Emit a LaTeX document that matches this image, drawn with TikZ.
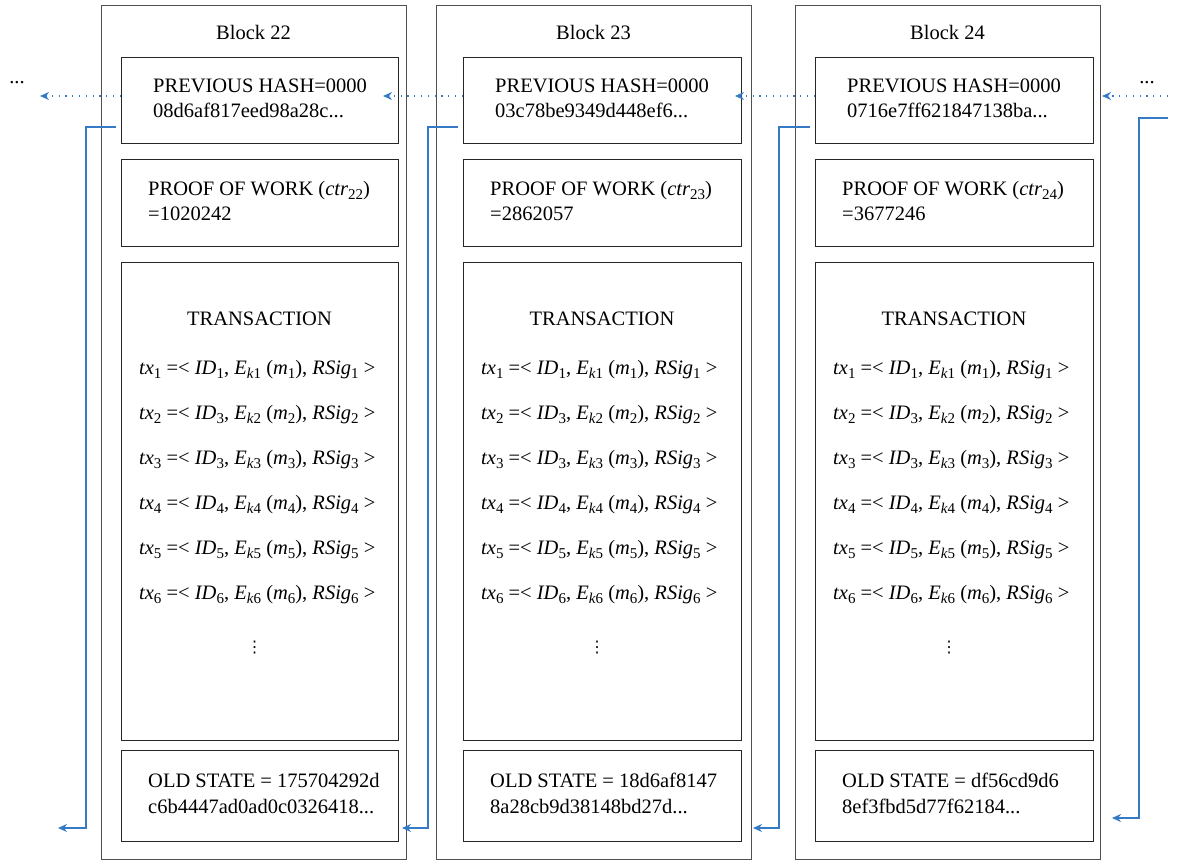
\documentclass[tikz,border=0pt]{standalone}
\usepackage{fontspec}
\setmainfont{Liberation Serif}
\newfontfamily\dejavu{DejaVu Sans}
\usetikzlibrary{arrows.meta}
\definecolor{lnblue}{RGB}{52,122,196}
\definecolor{outergray}{RGB}{80,80,80}
\newcommand\tdots{...}
\newcommand\lsub[1]{\raisebox{-0.5ex}{\fontsize{15}{15}\selectfont #1}}
\newcommand\txline[3]{\textit{tx}\lsub{#1} =< \textit{ID}\lsub{#2}, \textit{E}\lsub{\textit{k}#1} (\textit{m}\lsub{#1}), \textit{RSig}\lsub{#1} >}
\tikzset{
  outerbox/.style={draw=outergray,line width=1.4pt},
  innerbox/.style={draw=black!85,line width=1.1pt},
  txt/.style={font=\fontsize{20.5}{23}\selectfont,inner sep=0pt,anchor=base west},
  ctxt/.style={font=\fontsize{20.5}{23}\selectfont,inner sep=0pt,anchor=base},
  dotarrow/.style={draw=lnblue,line width=1.3pt,dash pattern=on 1.3pt off 5.5pt,-{Stealth[length=9pt,width=8pt]}},
  elbow/.style={draw=lnblue,line width=1.3pt,-{Stealth[length=9pt,width=8pt]}}
}
\begin{document}
\begin{tikzpicture}[x=1pt,y=-1pt]
\useasboundingbox (0,0) rectangle (1180,860);
\foreach \n/\qa/\qb/\qc/\qd/\qh/\qp/\qo/\qs in {
  22/101/406/121/398/08d6af817eed98a28c\tdots/1020242/175704292d/c6b4447ad0ad0c0326418\tdots,
  23/436/751/463/741/03c78be9349d448ef6\tdots/2862057/18d6af8147/8a28cb9d38148bd27d\tdots,
  24/795/1100/815/1093/0716e7ff621847138ba\tdots/3677246/df56cd9d6/8ef3fbd5d77f62184\tdots}{
  \node[outerbox,inner sep=0pt,minimum width={\qb-\qa},minimum height=854,anchor=north west] (b\n) at (\qa,5) {};
  \node[innerbox,inner sep=0pt,minimum width={\qd-\qc},minimum height=86,anchor=north west] (h\n) at (\qc,57) {};
  \node[innerbox,inner sep=0pt,minimum width={\qd-\qc},minimum height=87,anchor=north west] (p\n) at (\qc,159) {};
  \node[innerbox,inner sep=0pt,minimum width={\qd-\qc},minimum height=478,anchor=north west] (t\n) at (\qc,262) {};
  \node[innerbox,inner sep=0pt,minimum width={\qd-\qc},minimum height=91,anchor=north west] (o\n) at (\qc,750) {};
  \node[ctxt] (lbl\n) at ({(\qa+\qb)/2},39) {Block \n};
  \node[txt] (ha\n) at (\qc+32,92) {PREVIOUS HASH=0000};
  \node[txt] (hb\n) at (\qc+32,117) {\qh};
  \node[txt] (pa\n) at (\qc+27,195) {PROOF OF WORK (\textit{ctr}\lsub{\n})};
  \node[txt] (pb\n) at (\qc+27,220) {=\qp};
  \node[ctxt] (tt\n) at ({(\qc+\qd)/2},325) {TRANSACTION};
  \node[txt] (x1\n) at (\qc+18,374) {\txline{1}{1}{1}};
  \node[txt] (x2\n) at (\qc+18,419) {\txline{2}{3}{2}};
  \node[txt] (x3\n) at (\qc+18,464) {\txline{3}{3}{3}};
  \node[txt] (x4\n) at (\qc+18,509) {\txline{4}{4}{4}};
  \node[txt] (x5\n) at (\qc+18,554) {\txline{5}{5}{5}};
  \node[txt] (x6\n) at (\qc+18,599) {\txline{6}{6}{6}};
  \node[ctxt,font=\dejavu\fontsize{16}{16}\selectfont] (vd\n) at ({(\qc+\qd)/2-5},652) {⋮};
  \node[txt] (oa\n) at (\qc+27,787) {OLD STATE = \qo};
  \node[txt] (ob\n) at (\qc+27,813) {\qs};
}
\node[ctxt] (dl) at (17,83) {\tdots};
\node[ctxt] (dr) at (1147,83) {\tdots};
% dotted arrows
\coordinate (d22) at (40,96);
\coordinate (d23) at (383,96);
\coordinate (d24) at (735,96);
\coordinate (rs) at (1168,96);
\coordinate (rt) at (1102,96);
\draw[dotarrow] (h22.west |- 0,96) -- (d22);
\draw[dotarrow] (h23.west |- 0,96) -- (d23);
\draw[dotarrow] (h24.west |- 0,96) -- (d24);
\draw[dotarrow] (rs) -- (rt);
% elbow arrows
\coordinate (e22s) at (116,127); \coordinate (e22t) at (58,828);
\coordinate (e23s) at (458,127); \coordinate (e23t) at (402,828);
\coordinate (e24s) at (810,127); \coordinate (e24t) at (753,828);
\coordinate (ers) at (1168,118); \coordinate (ert) at (1112,818);
\draw[elbow] (e22s) -- (86,127) -- (86,828) -- (e22t);
\draw[elbow] (e23s) -- (428,127) -- (428,828) -- (e23t);
\draw[elbow] (e24s) -- (779,127) -- (779,828) -- (e24t);
\draw[elbow] (ers) -- (1139,118) -- (1139,818) -- (ert);
\end{tikzpicture}
\end{document}
